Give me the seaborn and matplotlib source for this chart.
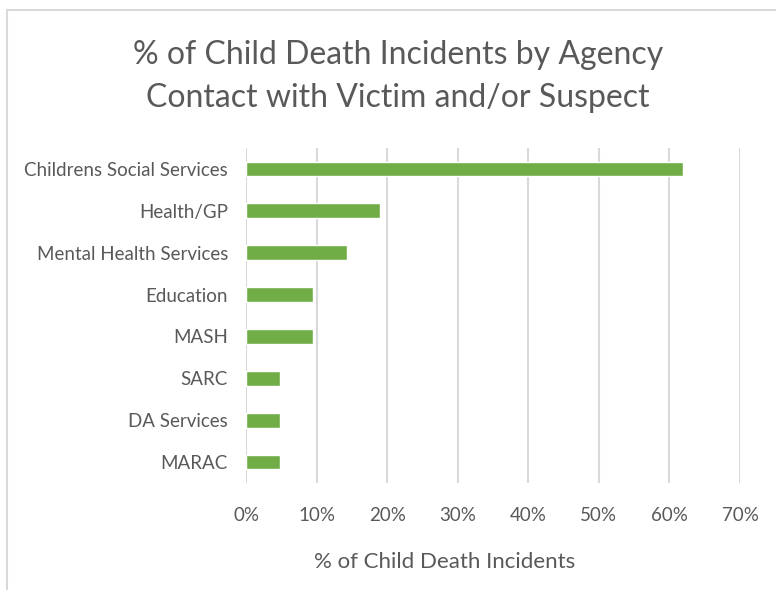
import matplotlib
matplotlib.use("Agg")
import matplotlib.pyplot as plt
import seaborn as sns
import pandas as pd
from matplotlib.patches import Rectangle
from matplotlib.ticker import FuncFormatter, MultipleLocator

agencies = ["Childrens Social Services", "Health/GP", "Mental Health Services",
            "Education", "MASH", "SARC", "DA Services", "MARAC"]
percent = [61.9, 19.05, 14.29, 9.52, 9.52, 4.76, 4.76, 4.76]

df = pd.DataFrame({"Agency": agencies, "Percent": percent})

sns.set_theme(style="white")
plt.rcParams["font.family"] = ["Lato", "DejaVu Sans"]

W, H = 776, 590
fig = plt.figure(figsize=(W / 100, H / 100), dpi=100)
ax = fig.add_axes([246 / W, 1 - 483 / H, (740 - 246) / W, (483 - 148) / H])

sns.barplot(data=df, x="Percent", y="Agency", color="#70AD47", width=0.35,
            saturation=1, ax=ax, zorder=3)

ax.set_xlim(0, 70)
ax.xaxis.set_major_locator(MultipleLocator(10))
ax.xaxis.set_major_formatter(FuncFormatter(lambda v, p: f"{v:.0f}%"))
ax.grid(axis="x", color="#D9D9D9", linewidth=1.5, zorder=0)
ax.grid(axis="y", visible=False)
for s in ax.spines.values():
    s.set_visible(False)
ax.tick_params(axis="both", length=0, labelcolor="#595959")
ax.tick_params(axis="x", pad=17, labelsize=13.5)
ax.tick_params(axis="y", pad=13, labelsize=13.5)
ax.set_ylabel("")
ax.set_xlabel("")

fig.text(445 / W, 1 - 562 / H, "% of Child Death Incidents",
         ha="center", va="center", fontsize=16, color="#595959")

fig.text(398 / W, 1 - 55 / H, "% of Child Death Incidents by Agency",
         ha="center", va="center", fontsize=23, color="#595959")
fig.text(398 / W, 1 - 98 / H, "Contact with Victim and/or Suspect",
         ha="center", va="center", fontsize=23, color="#595959")

fig.patches.append(Rectangle((7 / W, -0.1), 1.2, 1 - 10 / H + 0.1, transform=fig.transFigure,
                             fill=False, edgecolor="#D9D9D9", linewidth=1.5))

fig.savefig("out.png", dpi=100)
